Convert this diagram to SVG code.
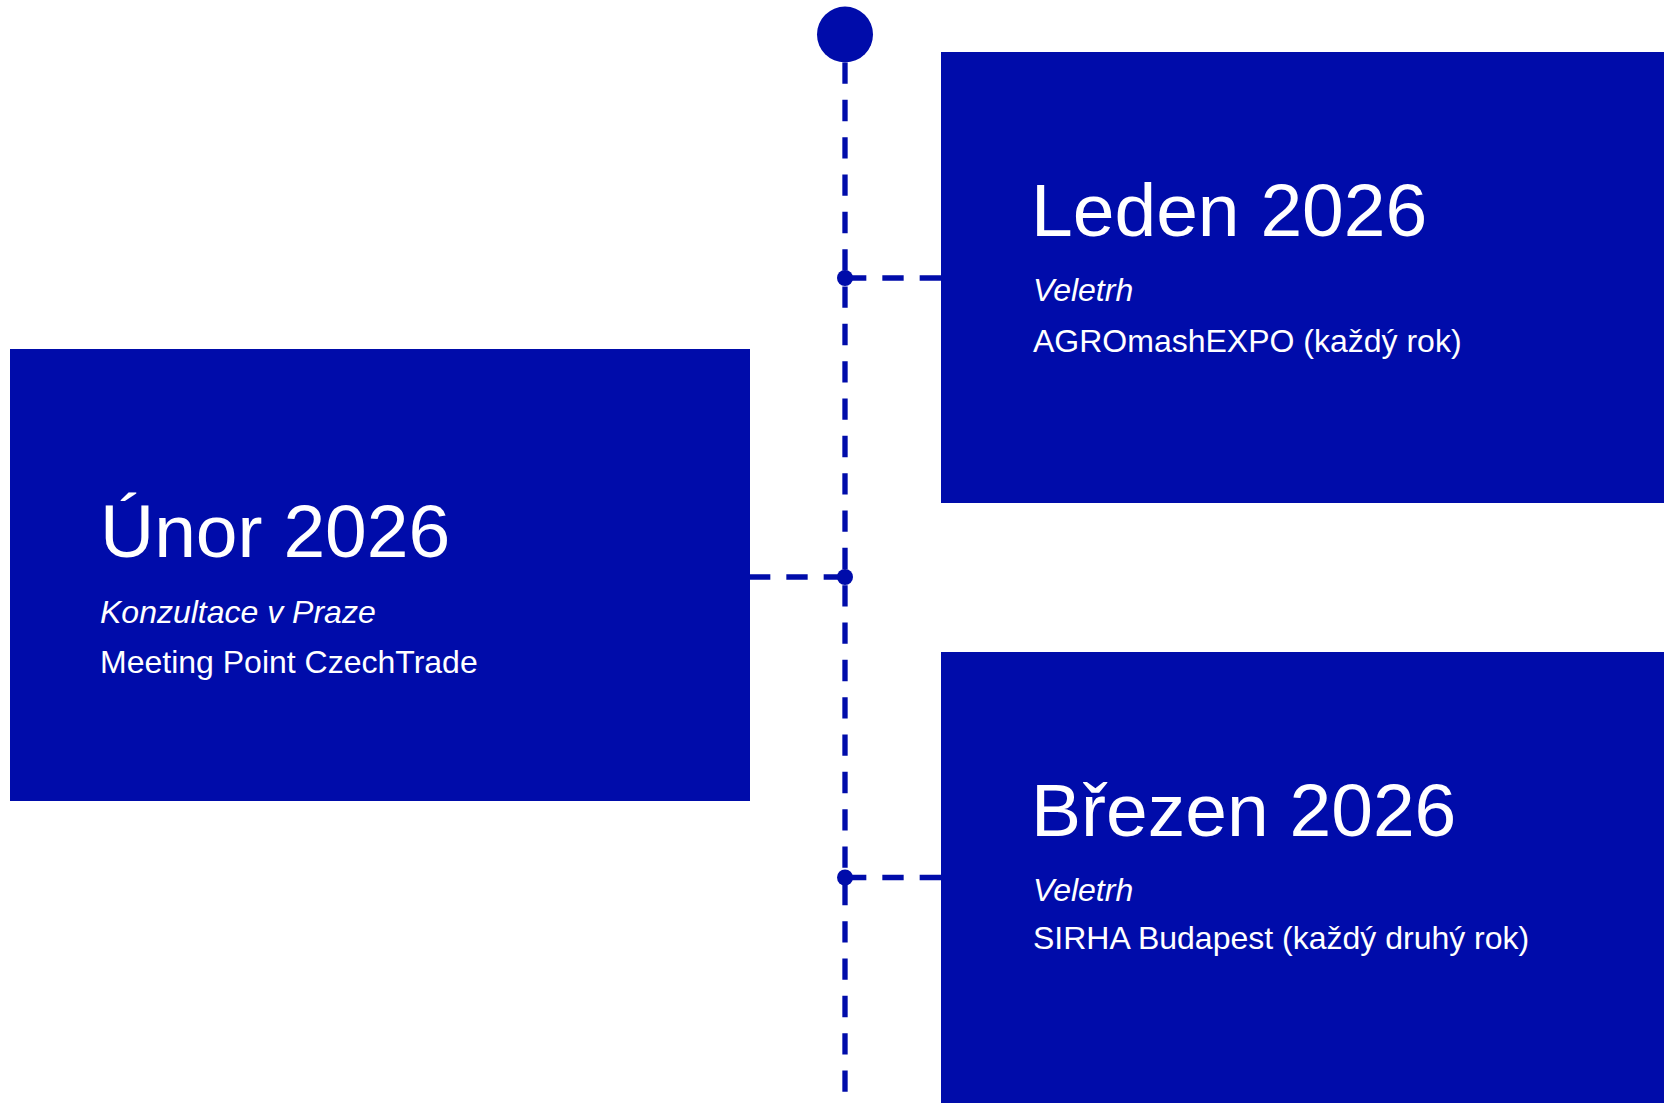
<svg xmlns="http://www.w3.org/2000/svg" width="1664" height="1103" viewBox="0 0 1664 1103">
  <style>
    .box { fill: #000CAA; }
    .title { font-family: "Liberation Sans", Arial, sans-serif; font-size: 75px; fill: #FFFFFF; }
    .kind { font-family: "Liberation Sans", Arial, sans-serif; font-size: 32px; font-style: italic; fill: #FFFFFF; }
    .desc { font-family: "Liberation Sans", Arial, sans-serif; font-size: 32px; fill: #FFFFFF; }
    .dash { stroke: #000CAA; stroke-width: 5.333; stroke-dasharray: 21.333 16; fill: none; }
    .dot { fill: #000CAA; }
  </style>
  <rect width="1664" height="1103" fill="#FFFFFF"/>
  <g id="connectors">
    <line class="dash" x1="845" y1="62.5" x2="845" y2="1103"/>
    <line class="dash" x1="845" y1="278" x2="941" y2="278"/>
    <line class="dash" x1="845" y1="577" x2="750" y2="577"/>
    <line class="dash" x1="845" y1="877.5" x2="941" y2="877.5"/>
    <circle class="dot" cx="845" cy="34.5" r="28"/>
    <circle class="dot" cx="845" cy="278" r="8"/>
    <circle class="dot" cx="845" cy="577" r="8"/>
    <circle class="dot" cx="845" cy="877.5" r="8"/>
  </g>
  <g id="node-leden">
    <rect class="box" x="941" y="52" width="723" height="451"/>
    <text class="title" x="1031" y="235.5">Leden 2026</text>
    <text class="kind" x="1033" y="300.7">Veletrh</text>
    <text class="desc" x="1033" y="351.5">AGROmashEXPO (každý rok)</text>
  </g>
  <g id="node-unor">
    <rect class="box" x="10" y="349" width="740" height="452"/>
    <text class="title" x="100" y="557">Únor 2026</text>
    <text class="kind" x="100" y="623">Konzultace v Praze</text>
    <text class="desc" x="100" y="673.3">Meeting Point CzechTrade</text>
  </g>
  <g id="node-brezen">
    <rect class="box" x="941" y="652" width="723" height="451"/>
    <text class="title" x="1031" y="835.5">Březen 2026</text>
    <text class="kind" x="1033" y="900.5">Veletrh</text>
    <text class="desc" x="1033" y="949.3">SIRHA Budapest (každý druhý rok)</text>
  </g>
</svg>
